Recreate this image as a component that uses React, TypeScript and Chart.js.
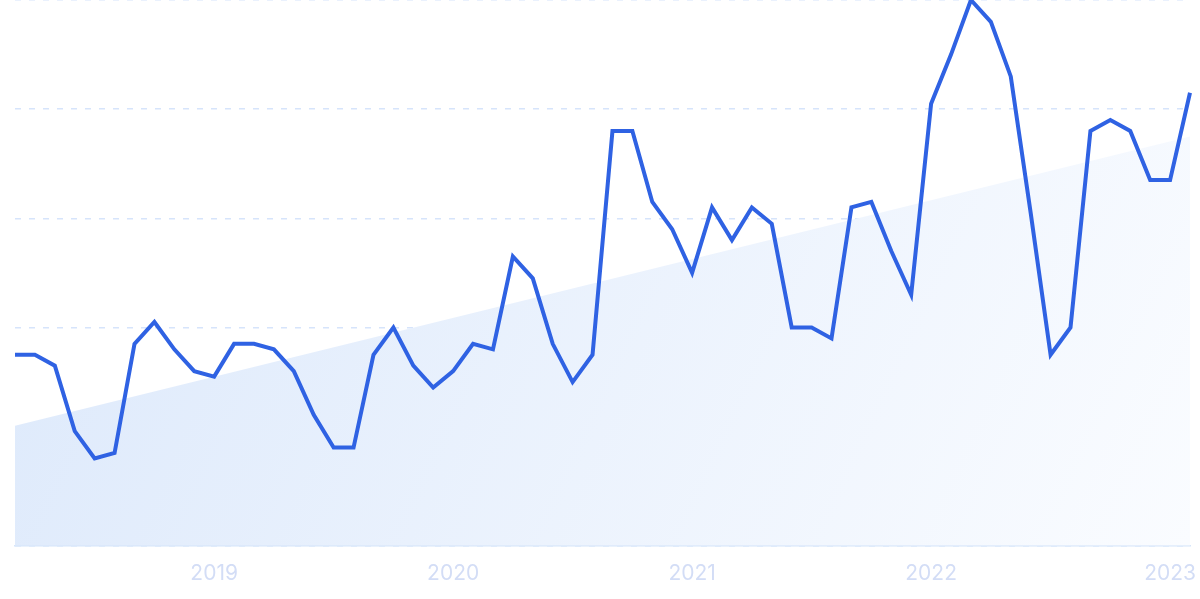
import React, { useEffect, useRef } from "react";
import { Chart, registerables } from "chart.js";

Chart.register(...registerables);

// Monthly points, Mar 2018 – Feb 2023
const months: string[] = [
  "2018-03","2018-04","2018-05","2018-06","2018-07","2018-08","2018-09","2018-10","2018-11","2018-12",
  "2019-01","2019-02","2019-03","2019-04","2019-05","2019-06","2019-07","2019-08","2019-09","2019-10","2019-11","2019-12",
  "2020-01","2020-02","2020-03","2020-04","2020-05","2020-06","2020-07","2020-08","2020-09","2020-10","2020-11","2020-12",
  "2021-01","2021-02","2021-03","2021-04","2021-05","2021-06","2021-07","2021-08","2021-09","2021-10","2021-11","2021-12",
  "2022-01","2022-02","2022-03","2022-04","2022-05","2022-06","2022-07","2022-08","2022-09","2022-10","2022-11","2022-12",
  "2023-01","2023-02",
];

const interest: number[] = [
  35, 35, 33, 21, 16, 17, 37, 41, 36, 32,
  31, 37, 37, 36, 32, 24, 18, 18, 35, 40, 33, 29,
  32, 37, 36, 53, 49, 37, 30, 35, 76, 76, 63, 58,
  50, 62, 56, 62, 59, 40, 40, 38, 62, 63, 54, 46,
  81, 90, 100, 96, 86, 61, 35, 40, 76, 78, 76, 67,
  67, 83,
];

const trendStart = 22;
const trendEnd = 75;

const yTicks: number[] = [0, 20, 40, 60, 80, 100];

export default function App() {
  const ref = useRef<HTMLCanvasElement | null>(null);

  useEffect(() => {
    if (!ref.current) return;
    const last = months.length - 1;
    const trend = months.map((_, i) => (i === 0 ? trendStart : i === last ? trendEnd : null));
    const chart = new Chart(ref.current, {
      type: "line",
      data: {
        labels: months,
        datasets: [
          {
            data: interest,
            borderColor: "#2f62e3",
            borderWidth: 4,
            pointRadius: 0,
            tension: 0,
            fill: false,
            order: 0,
          },
          {
            data: trend as any,
            spanGaps: true,
            borderWidth: 0,
            borderColor: "rgba(0,0,0,0)",
            pointRadius: 0,
            fill: "origin",
            order: 1,
            backgroundColor: (ctx: any) => {
              const ca = ctx.chart.chartArea;
              if (!ca) return "#e6effc";
              const g = ctx.chart.ctx.createLinearGradient(ca.left, ca.top, ca.right, ca.bottom);
              g.addColorStop(0, "#dbe8fb");
              g.addColorStop(1, "#fafcff");
              return g;
            },
          },
        ],
      },
      options: {
        animation: false,
        responsive: false,
        maintainAspectRatio: false,
        layout: { padding: { left: 15, right: 10, top: 0, bottom: -2 } },
        plugins: { legend: { display: false }, tooltip: { enabled: false } },
        scales: {
          x: {
            grid: { display: false, drawTicks: false },
            border: { display: true, color: "#d6e5fa", width: 1.5 },
            afterFit: (s: any) => {
              s.paddingRight = 0;
              s.paddingLeft = 0;
            },
            ticks: {
              autoSkip: false,
              maxRotation: 0,
              padding: 15,
              color: "#d3ddf6",
              font: { family: "Inter", size: 21 },
              callback: (_v: any, i: number) => {
                const m = months[i];
                return m && m.endsWith("-01") ? m.slice(0, 4) : "";
              },
            },
          },
          y: {
            min: yTicks[0],
            max: yTicks[yTicks.length - 1],
            afterBuildTicks: (axis: any) => {
              axis.ticks = yTicks.map((v) => ({ value: v }));
            },
            ticks: { display: false },
            grid: { color: "#d6e4fb", lineWidth: 1.5, drawTicks: false },
            border: { display: false, dash: [6, 8] },
          },
        },
      },
    });
    return () => chart.destroy();
  }, []);

  return (
    <div style={{ position: "fixed", left: 0, top: 0, width: 1200, height: 599, background: "#fff" }}>
      <canvas ref={ref} width={1200} height={599} style={{ display: "block" }} />
    </div>
  );
}
